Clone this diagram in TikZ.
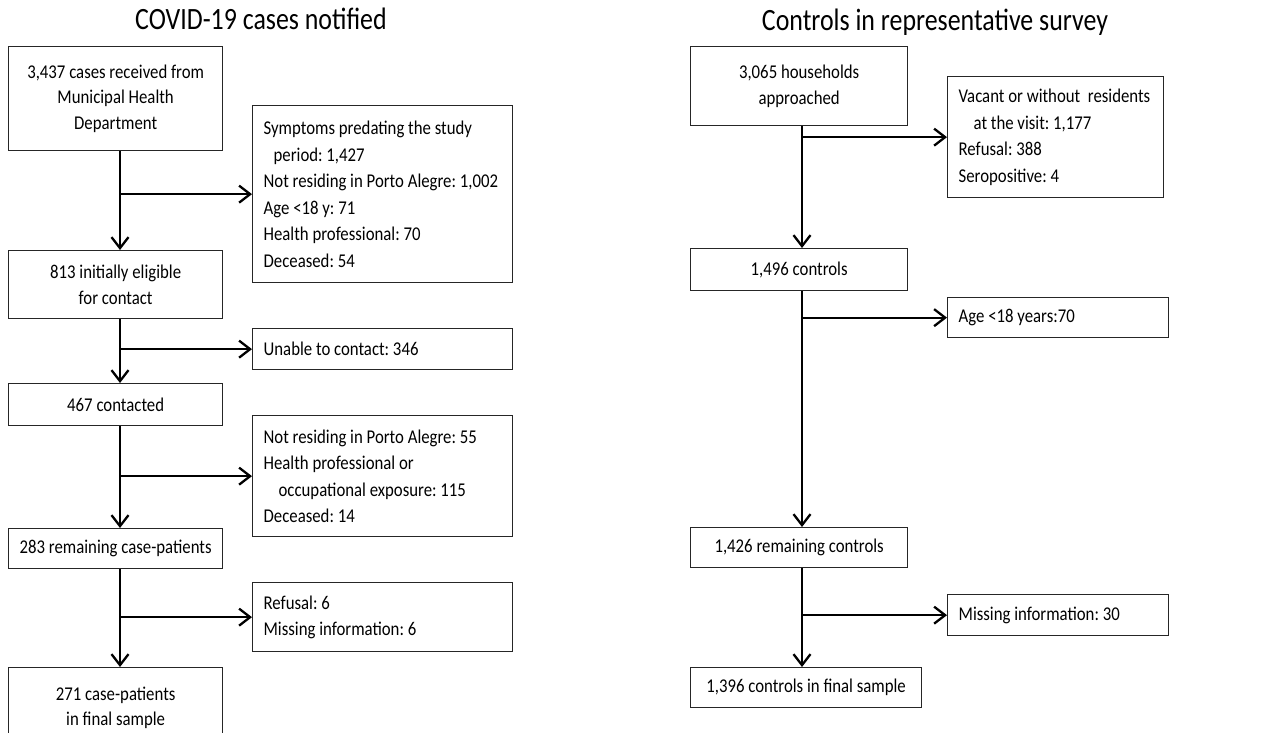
\documentclass[tikz,border=0pt]{standalone}
\usepackage{fontspec}
\setmainfont{Carlito}[FakeStretch=0.86]
\newfontfamily\ttlfont{Carlito}[FakeStretch=0.835]
\usetikzlibrary{arrows.meta}
\begin{document}
\frenchspacing
\begin{tikzpicture}[x=1pt,y=-1pt,
  box/.style={draw=black!85, line width=1.3pt, anchor=north west, inner sep=0pt,
    font=\fontsize{19.5}{25.5}\selectfont\frenchspacing},
  cbox/.style={box, align=center},
  lbox/.style={box, align=flush left, inner xsep=11pt, font=\fontsize{19.5}{26.5}\selectfont\frenchspacing},
  arr/.style={line width=2.3pt, -{Straight Barb[length=11pt,width=17pt,line width=2.3pt]}},
  ttl/.style={font=\ttlfont\fontsize{31}{36}\selectfont, anchor=base}]
\useasboundingbox (0,0) rectangle (1285,732);
\clip (0,0) rectangle (1285,732);
% titles
\node[ttl] (t1) at (261,29) {COVID-19 cases notified};
\node[ttl] (t2) at (935,30) {Controls in representative survey};
% left column
\coordinate (L) at (120,0);
\node[cbox, minimum width=214, minimum height=104] (a1) at (8,46) {3,437 cases received from\\Municipal Health\\Department};
\node[lbox, minimum width=260, minimum height=177, text width=238] (e1) at (252,105)
  {Symptoms predating the study\\\hspace*{10pt}period: 1,427\\Not residing in Porto Alegre: 1,002\\Age <18 y: 71\\Health professional: 70\\Deceased: 54};
\node[cbox, minimum width=214, minimum height=68] (a2) at (8,250) {813 initially eligible\\for contact};
\node[lbox, minimum width=260, minimum height=41, text width=238] (e2) at (252,328) {Unable to contact: 346};
\node[cbox, minimum width=214, minimum height=42] (a3) at (8,383) {467 contacted};
\node[lbox, minimum width=260, minimum height=121, text width=238] (e3) at (252,415)
  {Not residing in Porto Alegre: 55\\Health professional or\\\hspace*{15pt}occupational exposure: 115\\Deceased: 14};
\node[cbox, minimum width=214, minimum height=40] (a4) at (8,528) {283 remaining case-patients};
\node[lbox, minimum width=260, minimum height=69, text width=238] (e4) at (252,582)
  {Refusal: 6\\Missing information: 6};
\node[cbox, minimum width=214, minimum height=80] (a5) at (8,667) {271 case-patients\\in final sample};
% left connectors
\draw[arr] (a1.south -| L) -- (a2.north -| L);
\draw[arr] (L |- e1.west) -- (e1.west);
\draw[arr] (a2.south -| L) -- (a3.north -| L);
\draw[arr] (L |- e2.west) -- (e2.west);
\draw[arr] (a3.south -| L) -- (a4.north -| L);
\draw[arr] (L |- e3.west) -- (e3.west);
\draw[arr] (a4.south -| L) -- (a5.north -| L);
\draw[arr] (L |- e4.west) -- (e4.west);
% right column
\coordinate (R) at (802,0);
\node[cbox, minimum width=217, minimum height=79] (b1) at (690,46) {3,065 households\\approached};
\node[lbox, minimum width=216, minimum height=121, text width=194] (f1) at (947,76)
  {Vacant or without\ \ residents\\\hspace*{15pt}at the visit: 1,177\\Refusal: 388\\Seropositive: 4};
\node[cbox, minimum width=217, minimum height=42] (b2) at (690,248) {1,496 controls};
\node[lbox, minimum width=221, minimum height=40, text width=199] (f2) at (947,297) {Age <18 years:70};
\node[cbox, minimum width=217, minimum height=40] (b3) at (690,527) {1,426 remaining controls};
\node[lbox, minimum width=221, minimum height=41, text width=199] (f3) at (947,594) {Missing information: 30};
\node[cbox, minimum width=231, minimum height=40] (b4) at (690,667) {1,396 controls in final sample};
% right connectors
\draw[arr] (b1.south -| R) -- (b2.north -| R);
\draw[arr] (R |- f1.west) -- (f1.west);
\draw[arr] (b2.south -| R) -- (b3.north -| R);
\draw[arr] (R |- f2.west) -- (f2.west);
\draw[arr] (b3.south -| R) -- (b4.north -| R);
\draw[arr] (R |- f3.west) -- (f3.west);
\end{tikzpicture}
\end{document}
